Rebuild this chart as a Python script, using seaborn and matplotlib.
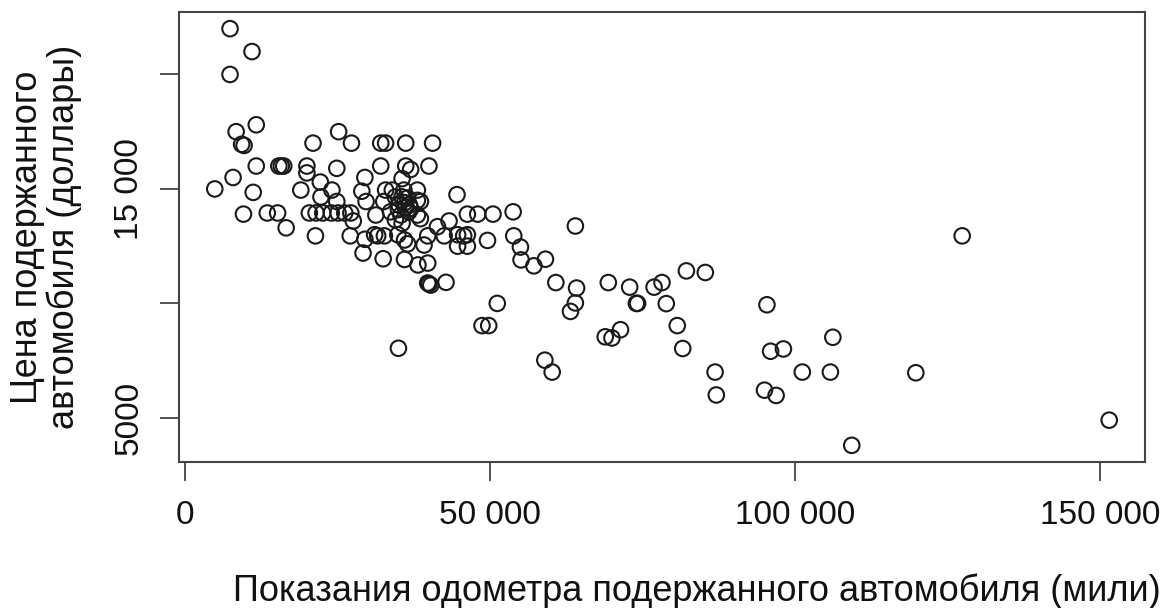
import matplotlib
matplotlib.use("Agg")
import matplotlib.pyplot as plt
import seaborn as sns
import pandas as pd

# Odometer reading (miles) and price (dollars)
odometer_miles = [
    7400, 11000, 7400, 8400, 11700, 9300, 9700,
    21000, 25200, 27300, 32100, 32900, 36200, 40600,
    11700, 15400, 15800, 16200, 20000, 20000, 24900,
    32100, 36200, 37000, 40000, 7900, 4900, 11200,
    19000, 22200, 24100, 22300, 29500, 29000, 29700,
    24900, 35600, 9600, 13500, 15200, 20400, 21500,
    22600, 24000, 25100, 26200, 27200, 27600, 16600,
    21400, 27100, 29500, 31100, 31300, 32600, 32900,
    34000, 35900, 38100, 34500, 35600, 36500, 38100,
    38600, 35100, 36200, 37000, 33700, 35400, 36700,
    38100, 38600, 34500, 35600, 36000, 35000, 36800,
    44600, 46300, 48000, 50500, 53800, 41400, 43300,
    31600, 32700, 34900, 36000, 36500, 39200, 39800,
    42500, 44700, 45700, 46300, 44700, 46300, 49600,
    53900, 55000, 55100, 57200, 59100, 64000, 29200,
    32500, 36000, 38200, 39800, 39800, 40300, 40000,
    42800, 51200, 48700, 49800, 35000, 60800, 64200,
    64000, 63200, 69400, 72900, 74000, 74200, 76900,
    78200, 82200, 85300, 78900, 80700, 81600, 68900,
    70000, 71400, 59000, 60200, 86900, 87100, 95400,
    106200, 96000, 98100, 95000, 96900, 101200, 105800,
    119800, 127400, 151500, 109300,
]
price_usd = [
    22000, 21000, 20000, 17500, 17800, 16950, 16900,
    17000, 17500, 17000, 17000, 17000, 17000, 17000,
    16000, 16000, 16000, 16000, 16000, 15700, 15900,
    16000, 16000, 15850, 16000, 15500, 15000, 14850,
    14950, 15300, 14950, 14650, 15500, 14900, 14450,
    14450, 15450, 13900, 13950, 13950, 13950, 13950,
    13950, 13950, 13950, 13950, 13950, 13600, 13300,
    12950, 12950, 12800, 13000, 13860, 14450, 14950,
    14950, 14950, 14950, 14650, 14650, 14600, 14500,
    14450, 14300, 14200, 14150, 14000, 13860, 14000,
    13860, 13700, 13650, 13500, 14400, 14100, 14300,
    14750, 13900, 13900, 13900, 14000, 13350, 13600,
    12950, 12950, 13000, 12770, 12600, 12550, 12950,
    12950, 13000, 12950, 13000, 12500, 12500, 12750,
    12950, 12460, 11900, 11640, 11930, 13380, 12200,
    11950, 11920, 11680, 11760, 10890, 10800, 10850,
    10920, 10000, 9030, 9030, 8040, 10910, 10670,
    10020, 9650, 10910, 10710, 10000, 10000, 10710,
    10910, 11420, 11350, 9990, 9030, 8030, 8540,
    8490, 8850, 7520, 7000, 7000, 6000, 9940,
    8520, 7910, 8010, 6210, 5980, 7000, 7000,
    6970, 12950, 4900, 3800,
]

x_ticks = [0, 50000, 100000, 150000]
x_tick_labels = ["0", "50 000", "100 000", "150 000"]
y_ticks = [5000, 10000, 15000, 20000]
y_tick_labels = ["5000", "", "15 000", ""]

x_label = "Показания одометра подержанного автомобиля (мили)"
y_label = "Цена подержанного\nавтомобиля (доллары)"

df = pd.DataFrame({"odometer": odometer_miles, "price": price_usd})

sns.set_style("white")
plt.rcParams["font.family"] = ["Liberation Sans", "DejaVu Sans"]

W, H = 1164, 608
fig = plt.figure(figsize=(W / 100, H / 100), dpi=100)
L, R, T, B = 179, 1145, 12, 462
ax = fig.add_axes([L / W, 1 - B / H, (R - L) / W, (B - T) / H])

sns.scatterplot(data=df, x="odometer", y="price", ax=ax, marker="o",
                s=125, facecolor="none", edgecolor="#1a1a1a", linewidth=1.5,
                legend=False)

xmin, xmax = min(odometer_miles), max(odometer_miles)
ymin, ymax = min(price_usd), max(price_usd)
dx, dy = (xmax - xmin) * 0.04, (ymax - ymin) * 0.04
ax.set_xlim(xmin - dx, xmax + dx)
ax.set_ylim(ymin - dy, ymax + dy)

ax.set_xticks(x_ticks)
ax.set_xticklabels(x_tick_labels)
ax.set_yticks(y_ticks)
ax.set_yticklabels(y_tick_labels, rotation=90, va="center")

ax.tick_params(axis="both", which="major", direction="out", length=13.5,
               width=1.3, color="#444444", labelsize=24, labelcolor="#111111",
               bottom=True, left=True, top=False, right=False)
ax.tick_params(axis="x", pad=14)
ax.tick_params(axis="y", pad=11)

for sp in ax.spines.values():
    sp.set_visible(True)
    sp.set_linewidth(1.5)
    sp.set_color("#444444")

ax.set_xlabel(x_label, fontsize=26, color="#111111", va="baseline")
ax.xaxis.set_label_coords((697 - L) / (R - L), (B - 601) / (B - T))
ax.set_ylabel(y_label, fontsize=26, color="#111111", va="center", ha="center",
              linespacing=1.05)
ax.yaxis.set_label_coords((46 - L) / (R - L), 0.5)

fig.savefig("out.png", dpi=100, facecolor="white")
